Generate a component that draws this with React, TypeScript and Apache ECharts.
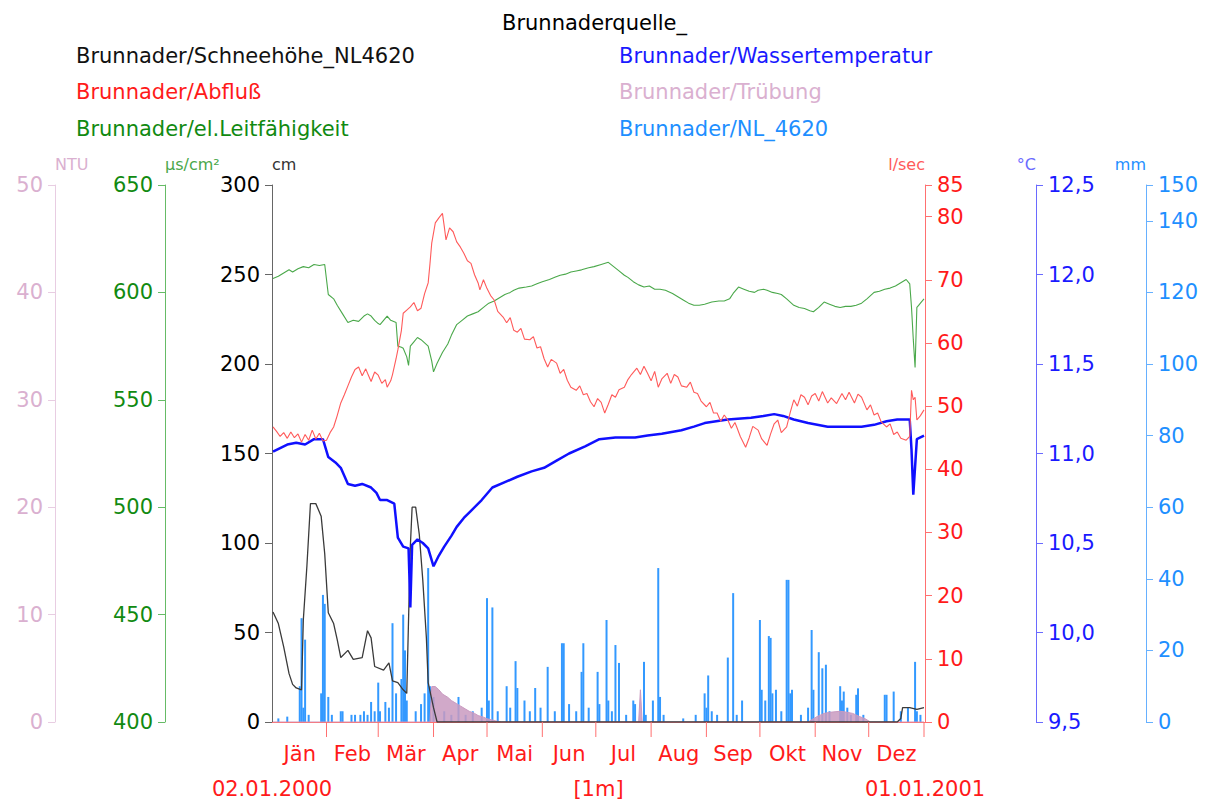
import React, { useEffect, useRef } from 'react';
import * as echarts from 'echarts';

const FONT = '"DejaVu Sans", Verdana, sans-serif';
const DAY = 86400000;
const START = Date.UTC(2000, 0, 2);
const END = Date.UTC(2001, 0, 1);
const t = (d: number) => START + d * DAY;

const titleText = 'Brunnaderquelle_';
const monthLabels = ['Jän', 'Feb', 'Mär', 'Apr', 'Mai', 'Jun', 'Jul', 'Aug', 'Sep', 'Okt', 'Nov', 'Dez'];
const startLabel = '02.01.2000';
const endLabel = '01.01.2001';
const periodLabel = '[1m]';

const S_SNOW = 'Brunnader/Schneehöhe_NL4620';
const S_FLOW = 'Brunnader/Abfluß';
const S_COND = 'Brunnader/el.Leitfähigkeit';
const S_TEMP = 'Brunnader/Wassertemperatur';
const S_TURB = 'Brunnader/Trübung';
const S_PREC = 'Brunnader/NL_4620';

// [days since 02.01.2000, value]
const snow: number[][] = [
  [0, 61.5], [3, 55], [6, 42], [9, 27], [11, 21], [13, 19], [16, 18], [17, 57], [19, 87], [21, 122], [24, 122],
  [27, 115], [29, 94], [31, 61], [34, 55], [36, 46], [38, 36], [42, 40], [45, 35], [50, 36], [53, 51], [55, 47],
  [57, 31], [62, 29], [65, 33], [67, 23], [70, 22], [73, 18], [75, 16], [77, 98], [78, 120], [80, 120], [82, 105],
  [84, 79], [86, 47], [87, 22], [90, 8], [92, 0], [350, 0], [352, 2], [353, 8], [357, 8], [361, 7], [365, 8],
];

const flow: number[][] = [
  [0, 46.7], [2, 46.0], [4, 45.2], [6, 45.8], [8, 44.9], [10, 45.9], [12, 45.0], [14, 45.6], [16, 44.3], [18, 45.5],
  [20, 44.6], [22, 46.2], [24, 44.8], [26, 45.7], [28, 44.5], [30, 44.6], [32, 45.8], [34, 46.7], [36, 48.5],
  [38, 50.5], [40, 51.8], [42, 53.2], [44, 54.6], [46, 55.8], [48, 56.2], [50, 54.8], [52, 55.9], [53, 55.2],
  [55, 53.9], [57, 55.4], [59, 54.9], [61, 53.6], [63, 54.2], [64, 53.0], [66, 54.0], [67, 55.0], [69, 57.5],
  [70, 58.9], [72, 62.0], [73, 64.7], [75, 65.2], [77, 65.7], [79, 66.4], [81, 65.1], [83, 65.5], [85, 67.8],
  [87, 69.5], [88, 72.5], [89, 75.8], [91, 79.0], [93, 79.8], [95, 80.5], [96, 78.5], [97, 76.3], [99, 78.2],
  [101, 77.6], [103, 76.0], [105, 75.2], [107, 74.2], [109, 73.0], [111, 72.6], [113, 70.8], [115, 69.5],
  [116, 68.4], [118, 70.0], [120, 68.6], [122, 67.5], [124, 66.8], [126, 65.0], [129, 64.1], [131, 63.2],
  [133, 64.0], [135, 62.0], [137, 61.7], [139, 62.3], [141, 60.6], [144, 60.5], [146, 61.0], [148, 59.2],
  [150, 59.4], [152, 57.5], [154, 56.2], [156, 57.4], [159, 56.8], [161, 55.2], [163, 55.8], [165, 54.1],
  [167, 53.0], [170, 52.5], [172, 53.2], [174, 51.8], [176, 52.0], [178, 50.7], [180, 49.9], [182, 51.2],
  [184, 50.6], [186, 48.9], [188, 50.3], [190, 51.8], [192, 51.4], [194, 52.6], [197, 53.0], [199, 54.2],
  [201, 55.0], [204, 56.0], [206, 55.0], [208, 56.3], [210, 55.2], [212, 54.0], [214, 55.5], [216, 53.0],
  [218, 54.3], [221, 55.2], [223, 53.6], [225, 55.0], [227, 54.6], [229, 53.2], [232, 53.0], [234, 53.8],
  [236, 52.2], [238, 52.0], [240, 50.8], [243, 49.9], [245, 50.6], [247, 48.9], [249, 48.9], [251, 47.6],
  [253, 48.6], [255, 47.8], [257, 46.5], [259, 47.4], [260, 46.7], [262, 45.2], [265, 43.5], [267, 45.0],
  [269, 46.8], [272, 46.2], [274, 44.8], [277, 43.8], [279, 45.6], [281, 47.2], [283, 47.8], [285, 45.8],
  [288, 46.7], [290, 49.0], [292, 51.0], [294, 50.0], [296, 51.8], [298, 51.4], [300, 50.2], [302, 51.6],
  [304, 52.0], [306, 50.8], [308, 52.3], [311, 50.5], [313, 51.3], [316, 50.4], [319, 52.0], [321, 51.0],
  [323, 52.2], [326, 50.5], [328, 51.9], [330, 51.4], [333, 49.4], [335, 50.2], [337, 48.6], [339, 48.9],
  [341, 47.5], [344, 46.7], [346, 47.2], [348, 45.5], [350, 45.9], [352, 44.9], [355, 44.6], [357, 45.2],
  [358, 52.5], [359, 51.0], [360, 51.4], [361, 47.8], [363, 48.5], [365, 49.4],
];

const conductivity: number[][] = [
  [0, 606.5], [3, 607.5], [6, 609], [9, 610.5], [11, 609.5], [14, 611], [17, 612], [20, 611.5], [23, 613],
  [26, 612.5], [29, 613], [30, 606], [31, 599], [34, 597], [36, 594], [39, 590], [42, 586], [45, 587],
  [48, 586.5], [51, 589], [53, 590], [55, 589], [57, 587], [59, 585.5], [60, 585], [62, 587], [64, 589],
  [66, 587], [69, 586], [70, 575], [72, 574.5], [73, 574], [75, 570], [76, 566], [77, 575], [79, 577],
  [81, 579], [83, 578], [85, 576.5], [87, 575], [89, 568], [90, 563], [92, 567], [95, 572], [98, 576],
  [100, 580], [103, 585], [106, 587], [109, 589], [112, 590], [115, 591], [118, 593], [121, 595], [124, 596],
  [127, 597.5], [130, 599], [133, 600], [135, 601], [138, 602], [142, 602.5], [145, 603], [148, 604],
  [151, 605], [155, 606], [158, 607], [161, 608], [164, 608.5], [167, 609.5], [170, 610], [173, 610.5],
  [177, 611.5], [180, 612], [184, 613], [188, 614], [191, 612], [194, 610], [197, 608], [199, 607],
  [202, 605], [205, 603.5], [208, 602.5], [211, 603], [214, 601.5], [217, 601.5], [220, 601], [224, 599.5],
  [227, 598], [230, 596.5], [233, 595], [236, 594], [239, 594], [242, 594.5], [246, 595.5], [250, 596],
  [253, 596], [256, 597], [258, 599.5], [261, 602.5], [264, 601.5], [267, 600.5], [270, 600], [272, 601],
  [275, 601.5], [277, 601], [280, 600], [283, 599.5], [285, 599], [288, 597], [290, 595.5], [292, 594],
  [295, 593], [298, 592.5], [301, 591.5], [303, 591], [306, 593], [309, 595.5], [312, 594.5], [315, 593.5],
  [318, 593], [321, 593.5], [324, 593.5], [327, 594], [330, 595], [333, 597], [337, 600], [340, 600.5],
  [343, 601.5], [346, 602], [349, 603], [352, 604.5], [355, 606], [357, 604], [358, 593], [359, 578],
  [360, 565], [361, 593], [362, 594], [363, 595], [365, 597],
];

const temperature: number[][] = [
  [0, 11.01], [4, 11.03], [8, 11.05], [13, 11.06], [18, 11.05], [23, 11.08], [28, 11.08], [31, 10.98],
  [35, 10.95], [38, 10.92], [42, 10.83], [46, 10.82], [50, 10.83], [55, 10.81], [58, 10.78], [60, 10.74],
  [64, 10.74], [68, 10.72], [70, 10.53], [73, 10.48], [76, 10.47], [77, 10.14], [78, 10.49], [81, 10.52],
  [84, 10.5], [87, 10.47], [90, 10.37], [93, 10.43], [96, 10.48], [100, 10.54], [103, 10.59], [107, 10.64],
  [111, 10.68], [117, 10.74], [123, 10.81], [130, 10.84], [137, 10.87], [145, 10.9], [152, 10.92],
  [159, 10.96], [166, 11.0], [175, 11.04], [183, 11.08], [192, 11.09], [203, 11.09], [210, 11.1],
  [218, 11.11], [229, 11.13], [236, 11.15], [242, 11.17], [255, 11.19], [268, 11.2], [275, 11.21],
  [281, 11.22], [286, 11.21], [292, 11.19], [300, 11.17], [311, 11.15], [320, 11.15], [330, 11.15],
  [337, 11.16], [344, 11.18], [350, 11.19], [357, 11.19], [358, 11.02], [359, 10.77], [361, 11.08],
  [363, 11.09], [365, 11.1],
];

const turbidity: number[][] = [
  [0, 0], [88, 0], [89, 3.3], [91, 3.3], [93, 3.0], [95, 2.6], [98, 2.3], [100, 2.0], [103, 1.7], [105, 1.5],
  [108, 1.2], [110, 1.0], [113, 0.8], [115, 0.6], [118, 0.45], [120, 0.3], [125, 0.1], [128, 0], [205, 0],
  [206, 3], [207, 0], [300, 0], [305, 0.5], [309, 0.8], [312, 0.9], [318, 1.0], [322, 0.9], [325, 0.8],
  [329, 0.5], [332, 0.3], [335, 0], [365, 0],
];

const precipitation: number[][] = [
  [3, 1], [8, 1.5], [15, 10], [16, 29], [17, 4], [18, 23], [20, 2], [27, 8], [28, 35.5], [29, 33], [31, 7],
  [33, 2], [38, 3], [39, 3], [44, 2], [46, 2], [49, 2], [51, 3], [53, 2], [55, 5.6], [57, 3], [59, 11], [60, 3],
  [63, 5.6], [65, 4], [67, 27.6], [69, 8], [72, 12], [73, 30], [74, 20], [75, 6], [80, 3], [83, 5], [85, 8],
  [87, 43], [88, 10], [90, 7], [96, 3], [100, 2], [104, 7], [108, 2], [112, 3], [117, 4], [120, 34.6],
  [121, 6], [123, 32], [126, 3], [131, 10], [133, 4], [136, 17], [137, 9.5], [141, 6], [144, 3], [147, 9.5],
  [150, 4], [154, 15.4], [158, 3], [162, 22], [163, 22], [166, 5], [170, 3], [173, 14], [174, 22], [177, 4],
  [182, 14], [183, 5], [187, 28.5], [188, 6], [190, 3], [192, 21.5], [194, 16.5], [198, 2], [202, 6],
  [203, 5], [208, 16.8], [209, 2], [213, 6], [216, 43], [217, 7], [219, 2], [230, 1], [237, 2], [242, 8],
  [243, 4], [244, 13], [246, 3], [249, 2], [255, 18], [258, 36], [260, 2], [263, 6], [273, 28.5], [274, 9],
  [276, 6], [278, 24], [279, 23.5], [280, 8], [282, 9], [285, 3], [288, 39.7], [289, 39.7], [290, 8],
  [291, 9], [296, 2], [300, 4], [302, 25.7], [303, 9], [306, 19.5], [308, 15], [310, 16], [312, 3],
  [318, 10], [319, 6], [320, 8.5], [322, 4], [324, 2], [327, 7.6], [328, 9.4], [331, 2], [343, 7.6],
  [344, 7.6], [348, 8.5], [352, 3], [356, 4], [360, 16.8], [361, 3], [363, 2],
];

const toSeries = (arr: number[][]) => arr.map(([d, v]) => [t(d), v]);

const C = {
  black: '#000000', snowLine: '#3a3a3a', cmAxis: '#666666',
  red: '#ff1a1a', redLine: '#ff5a5a', redAxis: '#ff7070',
  green: '#118a11', greenLine: '#4aa84a', greenAxis: '#66bb66',
  blue: '#1a1aff', blueLine: '#1010ff', blueAxis: '#6a6aff',
  pink: '#dab0d0', pinkFill: '#c99ac0', pinkAxis: '#e8cde2',
  sky: '#1e8fff', skyBar: '#3399ff', skyAxis: '#66b0ff',
};

const FS = 21;

function yAxis(o: any) {
  const left = o.pos === 'left';
  return {
    type: 'value',
    position: o.pos,
    offset: o.offset,
    min: o.min,
    max: o.max,
    interval: o.interval,
    name: o.name,
    nameLocation: 'end',
    nameGap: 13,
    nameTextStyle: {
      color: o.nameColor, fontSize: 16, fontFamily: FONT,
      align: left ? 'left' : 'right', verticalAlign: 'bottom',
    },
    axisLine: { show: true, lineStyle: { color: o.axisColor, width: 1 } },
    axisTick: { show: true, length: 7, lineStyle: { color: o.axisColor } },
    axisLabel: {
      color: o.labelColor, fontSize: FS, fontFamily: FONT, margin: 12,
      formatter: o.formatter,
    },
    splitLine: { show: false },
  };
}

export default function App() {
  const ref = useRef<HTMLDivElement>(null);
  useEffect(() => {
    if (!ref.current) return;
    const chart = echarts.init(ref.current, null, { renderer: 'svg' });
    const monthData = monthLabels.map((_, i) => [
      Math.max(Date.UTC(2000, i, 1), START), Date.UTC(2000, i + 1, 1), 0,
    ]);
    const textEl = (fill: string, x: number, y: number, text: string) => ({
      type: 'text', x, y, silent: true,
      style: { text, fill, font: `${FS}px ${FONT}`, align: 'center', verticalAlign: 'middle', textAlign: 'center', textVerticalAlign: 'middle' },
    });
    const legendBase = {
      orient: 'vertical', top: 40, itemWidth: 0, itemHeight: 21, itemGap: 15.5,
      icon: 'rect', selectedMode: false,
      textStyle: { fontSize: FS, fontFamily: FONT },
    };
    const option: any = {
      animation: false,
      backgroundColor: '#ffffff',
      title: {
        text: titleText, left: 497, top: 7,
        textStyle: { color: '#000', fontSize: FS, fontWeight: 'normal', fontFamily: FONT },
      },
      legend: [
        {
          ...legendBase, left: 66,
          data: [
            { name: S_SNOW, textStyle: { color: '#111' } },
            { name: S_FLOW, textStyle: { color: C.red } },
            { name: S_COND, textStyle: { color: C.green } },
          ],
        },
        {
          ...legendBase, left: 609,
          data: [
            { name: S_TEMP, textStyle: { color: C.blue } },
            { name: S_TURB, textStyle: { color: C.pink } },
            { name: S_PREC, textStyle: { color: C.sky } },
          ],
        },
      ],
      grid: { left: 272, right: 284, top: 185, bottom: 84, containLabel: false },
      xAxis: {
        type: 'time', min: START, max: END,
        name: periodLabel, nameLocation: 'middle', nameGap: 56,
        nameTextStyle: { color: C.red, fontSize: FS, fontFamily: FONT },
        axisLine: { show: true, onZero: false, lineStyle: { color: C.redAxis } },
        axisTick: { show: false },
        axisLabel: { show: false },
        splitLine: { show: false },
      },
      yAxis: [
        yAxis({ pos: 'left', offset: 0, min: 0, max: 300, interval: 50, name: 'cm',
          nameColor: '#333', axisColor: C.cmAxis, labelColor: C.black }),
        yAxis({ pos: 'left', offset: 107, min: 400, max: 650, interval: 50, name: 'µs/cm²',
          nameColor: C.greenLine, axisColor: C.greenAxis, labelColor: C.green }),
        yAxis({ pos: 'left', offset: 217, min: 0, max: 50, interval: 10, name: 'NTU',
          nameColor: C.pink, axisColor: C.pinkAxis, labelColor: C.pink }),
        yAxis({ pos: 'right', offset: 0, min: 0, max: 85, interval: 10, name: 'l/sec',
          nameColor: C.redLine, axisColor: C.redAxis, labelColor: C.red }),
        yAxis({ pos: 'right', offset: 111, min: 9.5, max: 12.5, interval: 0.5, name: '°C',
          nameColor: C.blueAxis, axisColor: C.blueAxis, labelColor: C.blue,
          formatter: (v: number) => v.toFixed(1).replace('.', ',') }),
        yAxis({ pos: 'right', offset: 221, min: 0, max: 150, interval: 20, name: 'mm',
          nameColor: C.sky, axisColor: C.skyAxis, labelColor: C.sky }),
      ],
      graphic: [
        textEl(C.red, 272, 789, startLabel),
        textEl(C.red, 925, 789, endLabel),
      ],
      series: [
        {
          name: S_PREC, type: 'bar', yAxisIndex: 5, barWidth: 2, barGap: '-100%',
          itemStyle: { color: C.skyBar }, data: toSeries(precipitation), z: 1,
        },
        {
          name: S_TURB, type: 'line', yAxisIndex: 2, symbol: 'none',
          lineStyle: { color: C.pinkFill, width: 1 }, itemStyle: { color: C.pinkFill },
          areaStyle: { color: C.pinkFill, opacity: 0.85 }, data: toSeries(turbidity), z: 2,
        },
        {
          name: S_SNOW, type: 'line', yAxisIndex: 0, symbol: 'none',
          lineStyle: { color: C.snowLine, width: 1.3 }, itemStyle: { color: C.snowLine },
          data: toSeries(snow), z: 3,
        },
        {
          name: S_TEMP, type: 'line', yAxisIndex: 4, symbol: 'none',
          lineStyle: { color: C.blueLine, width: 2.5 }, itemStyle: { color: C.blueLine },
          data: toSeries(temperature), z: 4,
        },
        {
          name: S_COND, type: 'line', yAxisIndex: 1, symbol: 'none',
          lineStyle: { color: C.greenLine, width: 1.1 }, itemStyle: { color: C.greenLine },
          data: toSeries(conductivity), z: 5,
        },
        {
          name: S_FLOW, type: 'line', yAxisIndex: 3, symbol: 'none',
          lineStyle: { color: C.redLine, width: 1.1 }, itemStyle: { color: C.redLine },
          data: toSeries(flow), z: 6,
        },
        {
          name: 'months', type: 'custom', yAxisIndex: 0, silent: true, clip: false, z: 10,
          encode: { x: [0, 1], y: 2 },
          data: monthData,
          renderItem: (params: any, api: any) => {
            const s = api.coord([api.value(0), 0]);
            const e = api.coord([api.value(1), 0]);
            return {
              type: 'group',
              children: [
                { type: 'line', shape: { x1: e[0], y1: e[1], x2: e[0], y2: e[1] + 15 },
                  style: { stroke: C.redAxis, lineWidth: 1 } },
                { type: 'text', x: (s[0] + e[0]) / 2, y: e[1] + 32,
                  style: { text: monthLabels[params.dataIndex], fill: C.red, font: `${FS}px ${FONT}`,
                    align: 'center', verticalAlign: 'middle', textAlign: 'center', textVerticalAlign: 'middle' } },
              ],
            };
          },
        },
      ],
    };
    chart.setOption(option);
    return () => chart.dispose();
  }, []);
  return (
    <div
      ref={ref}
      style={{ position: 'fixed', left: 0, top: 0, width: 1209, height: 806, background: '#fff' }}
    />
  );
}
